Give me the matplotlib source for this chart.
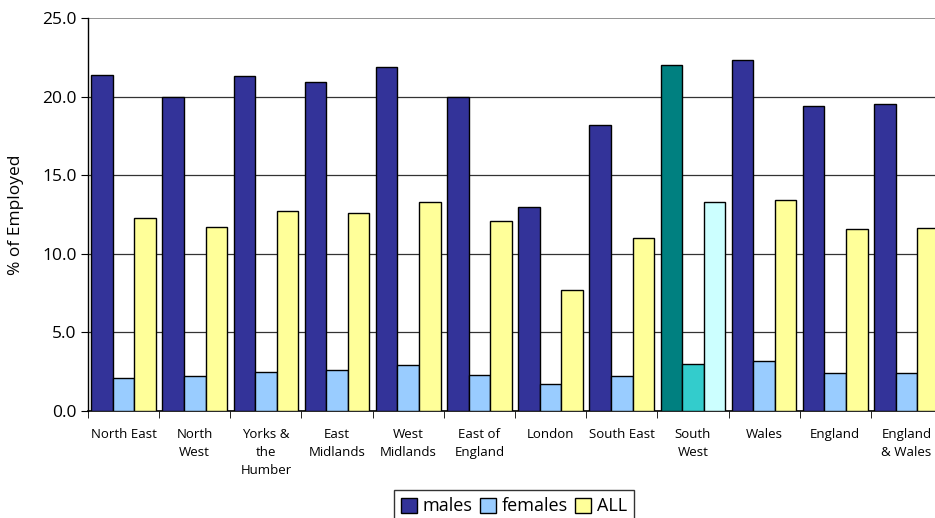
import numpy as np
import matplotlib
matplotlib.use("Agg")
import matplotlib.pyplot as plt
from matplotlib.patches import Patch

# data
regions = ["North East", "North\nWest", "Yorks &\nthe\nHumber", "East\nMidlands",
           "West\nMidlands", "East of\nEngland", "London", "South East",
           "South\nWest", "Wales", "England", "England\n& Wales"]
males = [21.4, 20.0, 21.3, 20.9, 21.9, 20.0, 13.0, 18.2, 22.0, 22.3, 19.4, 19.5]
females = [2.1, 2.25, 2.5, 2.6, 2.9, 2.3, 1.7, 2.25, 3.0, 3.2, 2.4, 2.4]
all_emp = [12.3, 11.7, 12.7, 12.6, 13.3, 12.1, 7.7, 11.0, 13.3, 13.45, 11.6, 11.65]

series = [("males", males, "#333399", "#008080"),
          ("females", females, "#99CCFF", "#33CCCC"),
          ("ALL", all_emp, "#FFFF99", "#CCFFFF")]
highlight = "South\nWest"

plt.rcParams['font.family'] = ['Open Sans', 'DejaVu Sans']

fig = plt.figure(figsize=(9.35, 5.18), dpi=100)
ax = fig.add_axes([0.0941, 0.2066, 0.9134, 0.7587])

x = np.arange(len(regions))
w = 0.303
for i, (name, vals, col, hcol) in enumerate(series):
    colors = [hcol if r == highlight else col for r in regions]
    ax.bar(x + (i - 1) * w, vals, width=w, color=colors, edgecolor="black",
           linewidth=1.0, zorder=3)

ax.set_xlim(-0.5, len(regions) - 0.5)
ax.set_ylim(0, 25)
ax.set_yticks(np.arange(0, 25.1, 5))
ax.set_yticklabels([f"{v:.1f}" for v in np.arange(0, 25.1, 5)], fontsize=12.5)
ax.yaxis.grid(True, color="#333333", linewidth=0.9, zorder=0)
ax.get_ygridlines()[-1].set_color("#808080")
ax.get_ygridlines()[-1].set_linewidth(1.2)
ax.set_axisbelow(True)

ax.set_xticks(x)
ax.set_xticklabels(regions, fontsize=9.5, linespacing=1.5)
ax.set_xticks(np.arange(-0.5, len(regions), 1), minor=True)
ax.tick_params(axis="x", which="major", length=0, pad=12)
ax.tick_params(axis="x", which="minor", length=5, direction="out")
ax.tick_params(axis="y", length=5, direction="out", pad=3)

ax.set_ylabel("% of Employed", fontsize=12.5, labelpad=13)

for s in ["top", "right"]:
    ax.spines[s].set_visible(False)
ax.spines["left"].set_linewidth(1.0)
ax.spines["bottom"].set_linewidth(1.2)

handles = [Patch(facecolor=c, edgecolor="black", label=n) for n, _, c, _ in series]
leg = fig.legend(handles=handles, loc="upper center", bbox_to_anchor=(0.5497, 0.054),
                 ncol=3, fontsize=13, frameon=True, fancybox=False,
                 edgecolor="black", handlelength=0.9, handleheight=0.9,
                 handletextpad=0.3, columnspacing=0.4, borderpad=0.4,
                 borderaxespad=0)
leg.get_frame().set_linewidth(1.0)

fig.savefig("out.png", dpi=100)
